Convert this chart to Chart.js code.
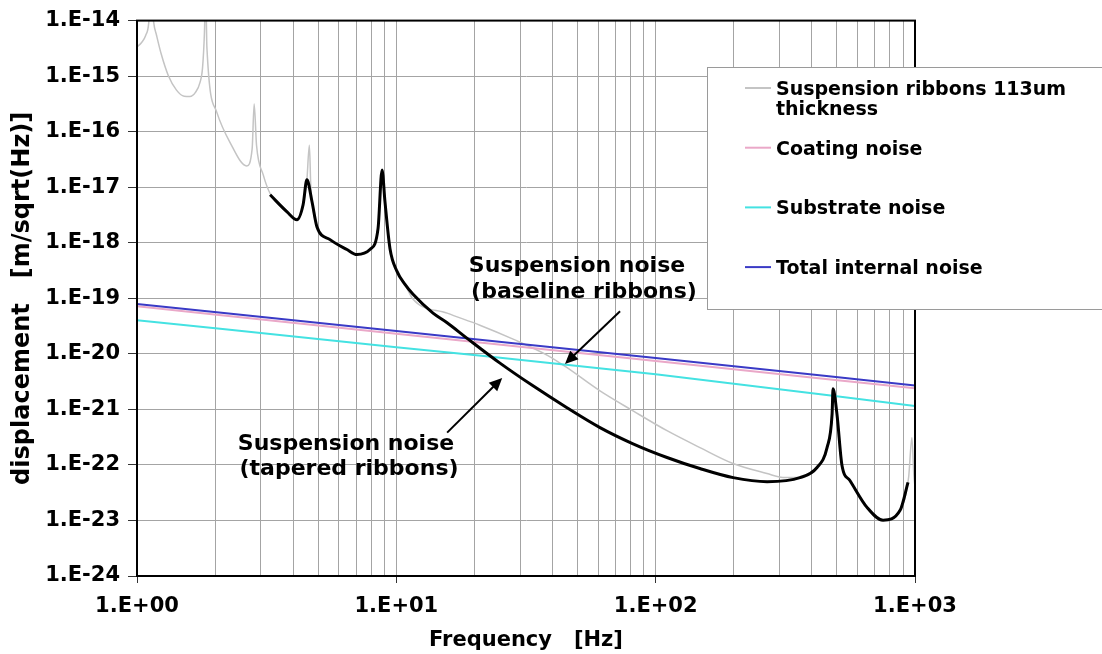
<!DOCTYPE html>
<html>
<head>
<meta charset="utf-8">
<script src="https://cdn.jsdelivr.net/npm/chart.js@4.4.1/dist/chart.umd.min.js"></script>
<style>
  html, body { margin: 0; padding: 0; background: #fff; }
  canvas { display: block; }
</style>
</head>
<body>
<canvas id="noiseChart" width="1102" height="654"></canvas>
<script>
// ---- data (frequency in Hz, displacement in m/sqrt(Hz)) ----
const baselineFreq = [1.00, 1.04, 1.08, 1.11, 1.13, 1.16, 1.19, 1.24, 1.32, 1.42, 1.52, 1.60, 1.68, 1.75, 1.79, 1.82, 1.84,
  1.86, 2.03, 2.28, 2.65, 2.78, 2.83, 2.89, 3.07, 3.26, 3.79, 4.14, 4.37, 4.52, 4.62, 4.68, 4.73, 4.94, 5.55, 6.45, 7.05,
  7.91, 8.50, 8.81, 9.04, 9.45, 10.06, 10.8, 11.6, 15.7, 21.0, 28.2, 38.1, 45.1, 61.0, 81.8, 110.6, 148.2, 198.7, 268.8,
  309.7, 360, 419, 458, 479, 483, 500, 523, 561, 653, 753, 876, 945, 973, 990, 1000];
const baselineDisp = [3.35e-15, 4.0e-15, 5.4e-15, 9.2e-15, 4e-14, 9.2e-15, 5.4e-15, 2.5e-15, 1.03e-15, 5.6e-16, 4.35e-16,
  4.3e-16, 5.1e-16, 7.7e-16, 1.44e-15, 6.1e-15, 4e-14, 3.3e-15, 2.25e-16, 6.5e-17, 2.42e-17, 4.95e-17, 3.16e-16, 5.7e-17,
  1.65e-17, 7.7e-18, 3.6e-18, 2.6e-18, 4.84e-18, 1.36e-17, 5.7e-17, 1.0e-17, 5.47e-18, 1.95e-18, 1.14e-18, 7.55e-19,
  6.15e-19, 7.55e-19, 1.8e-18, 2.05e-17, 5.5e-18, 7.9e-19, 3.05e-19, 1.78e-19, 9.6e-20, 5.4e-20, 3.28e-20, 1.84e-20,
  9.5e-21, 5.8e-21, 2.15e-21, 9.4e-22, 4.13e-22, 2.05e-22, 1.06e-22, 7.0e-23, 5.95e-23, 5.95e-23, 9.0e-23, 2.05e-22,
  8.3e-22, 2.34e-21, 8.3e-22, 9.75e-23, 5.25e-23, 1.72e-23, 1.01e-23, 1.52e-23, 6.0e-23, 3.1e-22, 6.5e-23, 4.0e-23];

const taperedFreq = [3.26, 3.79, 4.14, 4.37, 4.52, 4.73, 4.94, 5.55, 6.45, 7.05, 7.91, 8.50, 8.81, 9.04, 9.45, 10.06,
  10.8, 11.6, 13.85, 15.6, 18.7, 25.1, 33.65, 45.5, 61, 81.8, 110.6, 148, 199, 269, 360, 419, 458, 479, 483, 500, 523,
  561, 653, 753, 876, 940];
const taperedDisp = [7.3e-18, 3.6e-18, 2.6e-18, 4.84e-18, 1.36e-17, 5.47e-18, 1.95e-18, 1.14e-18, 7.55e-19, 6.15e-19,
  7.55e-19, 1.8e-18, 2.05e-17, 5.5e-18, 7.9e-19, 3.05e-19, 1.78e-19, 1.18e-19, 5.4e-20, 3.7e-20, 1.92e-20, 6.8e-21,
  2.65e-21, 1.07e-21, 4.7e-22, 2.4e-22, 1.36e-22, 8.6e-23, 5.9e-23, 5.0e-23, 5.9e-23, 9.0e-23, 2.05e-22, 8.3e-22,
  2.34e-21, 8.3e-22, 9.75e-23, 5.25e-23, 1.72e-23, 1.01e-23, 1.52e-23, 4.84e-23];

const thermalFreq = [1, 10, 100, 1000];
const coatingDisp = [7.2e-20, 2.3e-20, 7.4e-21, 2.4e-21];
const substrateDisp = [4.04e-20, 1.32e-20, 4.3e-21, 1.15e-21];
const totalDisp = [7.9e-20, 2.57e-20, 8.4e-21, 2.7e-21];

const xMajorTicks = [1, 10, 100, 1000];
const xTickLabels = ['1.E+00', '1.E+01', '1.E+02', '1.E+03'];
const yTicks = [1e-24, 1e-23, 1e-22, 1e-21, 1e-20, 1e-19, 1e-18, 1e-17, 1e-16, 1e-15, 1e-14];
const yTickLabels = ['1.E-24', '1.E-23', '1.E-22', '1.E-21', '1.E-20', '1.E-19', '1.E-18', '1.E-17', '1.E-16', '1.E-15', '1.E-14'];

// annotation arrows: [tail freq, tail disp, head freq, head disp]
const baselineArrow = [72.9, 5.85e-20, 44.7, 6.56e-21];
const taperedArrow = [15.7, 3.81e-22, 25.6, 3.68e-21];

// minor grid at 2..9 of each decade
const xGridValues = [];
xMajorTicks.forEach((m, i) => {
  xGridValues.push(m);
  if (i < xMajorTicks.length - 1) for (let k = 2; k <= 9; k++) xGridValues.push(m * k);
});

const FONT = '"DejaVu Sans", Verdana, sans-serif';
Chart.defaults.font.family = FONT;
Chart.defaults.font.weight = 'bold';
Chart.defaults.color = '#000';

const pts = (xs, ys) => xs.map((x, i) => ({ x, y: ys[i] }));
const isMajorX = v => xMajorTicks.some(m => Math.abs(m - v) < m * 1e-9);

const legendRows = [
  { lines: ['Suspension ribbons 113um', 'thickness'], color: '#c4c4c4' },
  { lines: ['Coating noise'], color: '#eaa8c8' },
  { lines: ['Substrate noise'], color: '#44e2e2' },
  { lines: ['Total internal noise'], color: '#3a3ac6' }
];

function arrow(ctx, x0, y0, x1, y1) {
  const a = Math.atan2(y1 - y0, x1 - x0), L = 13, W = 6;
  ctx.beginPath();
  ctx.moveTo(x0, y0);
  ctx.lineTo(x1 - Math.cos(a) * L * 0.8, y1 - Math.sin(a) * L * 0.8);
  ctx.stroke();
  ctx.beginPath();
  ctx.moveTo(x1, y1);
  ctx.lineTo(x1 - Math.cos(a) * L - Math.sin(a) * W, y1 - Math.sin(a) * L + Math.cos(a) * W);
  ctx.lineTo(x1 - Math.cos(a) * L + Math.sin(a) * W, y1 - Math.sin(a) * L - Math.cos(a) * W);
  ctx.closePath();
  ctx.fill();
}

const overlay = {
  id: 'overlay',
  afterDraw(chart) {
    const { ctx, chartArea: a, scales: { x, y } } = chart;
    ctx.save();
    // frame
    ctx.strokeStyle = '#000';
    ctx.lineWidth = 2;
    ctx.strokeRect(a.left, a.top, a.right - a.left, a.bottom - a.top);

    // legend box
    ctx.fillStyle = '#fff';
    ctx.fillRect(707.5, 67.5, 420, 242);
    ctx.strokeStyle = '#9a9a9a';
    ctx.lineWidth = 1;
    ctx.strokeRect(707.5, 67.5, 420, 242);
    ctx.font = 'bold 19px ' + FONT;
    ctx.textAlign = 'left';
    ctx.textBaseline = 'alphabetic';
    legendRows.forEach((r, i) => {
      const ly = 88 + i * 59.7;
      ctx.strokeStyle = r.color;
      ctx.lineWidth = 2;
      ctx.beginPath();
      ctx.moveTo(745, ly);
      ctx.lineTo(771, ly);
      ctx.stroke();
      ctx.fillStyle = '#000';
      r.lines.forEach((t, j) => ctx.fillText(t, 776, ly + 7 + j * 20));
    });

    // annotations
    ctx.font = 'bold 22px ' + FONT;
    ctx.textAlign = 'center';
    ctx.fillStyle = '#000';
    ctx.fillText('Suspension noise', 577, 272);
    ctx.fillText('(baseline ribbons)', 584, 298);
    ctx.fillText('Suspension noise', 346, 450);
    ctx.fillText('(tapered ribbons)', 349, 475);
    ctx.strokeStyle = '#000';
    ctx.lineWidth = 2;
    [baselineArrow, taperedArrow].forEach(r => {
      arrow(ctx, x.getPixelForValue(r[0]), y.getPixelForValue(r[1]), x.getPixelForValue(r[2]), y.getPixelForValue(r[3]));
    });
    ctx.restore();
  }
};

new Chart(document.getElementById('noiseChart'), {
  type: 'line',
  data: {
    datasets: [
      { label: 'Suspension noise (tapered ribbons)', data: pts(taperedFreq, taperedDisp), borderColor: '#000', borderWidth: 3, order: 0 },
      { label: 'Total internal noise', data: pts(thermalFreq, totalDisp), borderColor: legendRows[3].color, borderWidth: 2, order: 1 },
      { label: 'Substrate noise', data: pts(thermalFreq, substrateDisp), borderColor: legendRows[2].color, borderWidth: 2, order: 2 },
      { label: 'Coating noise', data: pts(thermalFreq, coatingDisp), borderColor: legendRows[1].color, borderWidth: 2, order: 3 },
      { label: 'Suspension ribbons 113um thickness', data: pts(baselineFreq, baselineDisp), borderColor: legendRows[0].color, borderWidth: 1.5, order: 4 }
    ]
  },
  options: {
    responsive: false,
    animation: false,
    devicePixelRatio: 1,
    elements: { point: { radius: 0 }, line: { cubicInterpolationMode: 'monotone', fill: false } },
    layout: { padding: { top: 18, right: 187, left: 0, bottom: 0 } },
    plugins: { legend: { display: false }, tooltip: { enabled: false } },
    scales: {
      x: {
        type: 'logarithmic', min: 1, max: 1000,
        afterBuildTicks: s => { s.ticks = xGridValues.map(v => ({ value: v })); },
        afterFit: s => { s.height = 78; },
        ticks: {
          autoSkip: false, maxRotation: 0, padding: 11, color: '#000',
          font: { size: 21, weight: 'bold' },
          callback: v => { const i = xMajorTicks.findIndex(m => Math.abs(m - v) < m * 1e-9); return i >= 0 ? xTickLabels[i] : ''; }
        },
        grid: {
          color: '#a4a4a4', lineWidth: 1, tickLength: 7,
          tickColor: c => (c.tick && isMajorX(c.tick.value)) ? '#333' : 'rgba(0,0,0,0)'
        },
        border: { color: '#000', width: 2 },
        title: { display: true, text: 'Frequency   [Hz]', color: '#000', font: { size: 21, weight: 'bold' }, padding: { top: 0, bottom: 1 } }
      },
      y: {
        type: 'logarithmic', min: 1e-24, max: 1e-14,
        afterBuildTicks: s => { s.ticks = yTicks.map(v => ({ value: v })); },
        afterFit: s => { s.width = 137; },
        ticks: {
          autoSkip: false, padding: 8, color: '#000',
          font: { size: 21, weight: 'bold' },
          callback: (v, i) => yTickLabels[i]
        },
        grid: { color: '#a4a4a4', lineWidth: 1, tickLength: 9, tickColor: '#333' },
        border: { color: '#000', width: 2 },
        title: { display: true, text: 'displacement   [m/sqrt(Hz)]', color: '#000', font: { size: 24, weight: 'bold' }, padding: { top: 8, bottom: 0 } }
      }
    }
  },
  plugins: [overlay]
});
</script>
</body>
</html>
